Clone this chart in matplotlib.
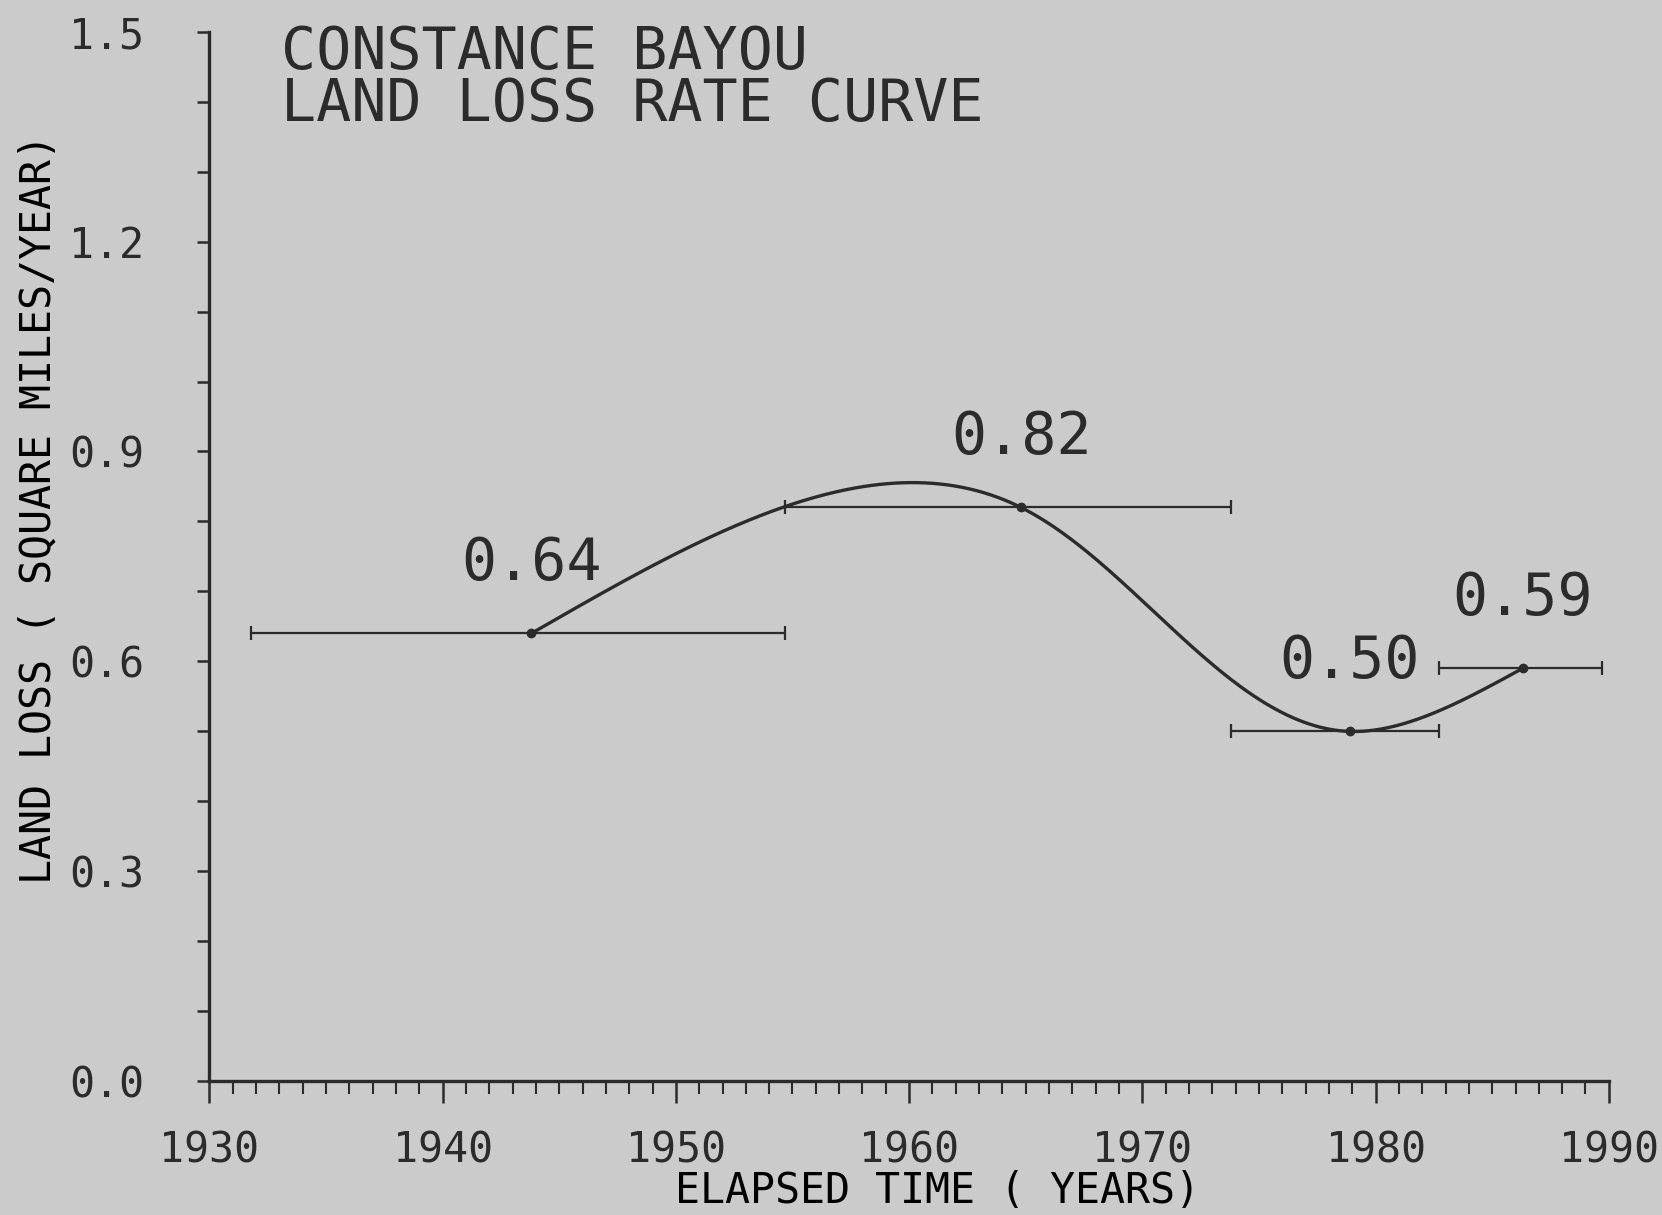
import numpy as np
import matplotlib
matplotlib.use("Agg")
from matplotlib import pyplot as plt
from matplotlib.ticker import MultipleLocator

# data
years = [1943.8, 1964.8, 1978.9, 1986.3]
rates = [0.64, 0.82, 0.50, 0.59]
period_start = [1931.8, 1954.7, 1973.8, 1982.7]
period_end = [1954.7, 1973.8, 1982.7, 1989.7]
rate_labels = ["0.64", "0.82", "0.50", "0.59"]
x_ticks = [1930, 1940, 1950, 1960, 1970, 1980, 1990]
y_ticks = [0.0, 0.3, 0.6, 0.9, 1.2, 1.5]
y_tick_labels = ["0.0", "0.3", "0.6", "0.9", "1.2", "1.5"]

paper = "#cbcbcb"
ink = "#2b2b2b"


def natural_spline(x, y, xs):
    x = np.asarray(x, float)
    y = np.asarray(y, float)
    n = len(x)
    h = np.diff(x)
    A = np.zeros((n, n))
    b = np.zeros(n)
    A[0, 0] = A[-1, -1] = 1
    for i in range(1, n - 1):
        A[i, i - 1] = h[i - 1]
        A[i, i] = 2 * (h[i - 1] + h[i])
        A[i, i + 1] = h[i]
        b[i] = 6 * ((y[i + 1] - y[i]) / h[i] - (y[i] - y[i - 1]) / h[i - 1])
    M = np.linalg.solve(A, b)
    idx = np.clip(np.searchsorted(x, xs) - 1, 0, n - 2)
    x0, x1 = x[idx], x[idx + 1]
    hh = x1 - x0
    t0 = x1 - xs
    t1 = xs - x0
    return ((M[idx] * t0 ** 3 + M[idx + 1] * t1 ** 3) / (6 * hh)
            + (y[idx] / hh - M[idx] * hh / 6) * t0
            + (y[idx + 1] / hh - M[idx + 1] * hh / 6) * t1)


def smooth_curve(ax, x, y, n=400):
    # chord-length spline through the points, built in screen space
    pts = ax.transData.transform(np.column_stack([x, y]))
    d = np.hypot(*np.diff(pts, axis=0).T)
    s = np.concatenate([[0], np.cumsum(d)])
    ss = np.linspace(0, s[-1], n)
    px = natural_spline(s, pts[:, 0], ss)
    py = natural_spline(s, pts[:, 1], ss)
    back = ax.transData.inverted().transform(np.column_stack([px, py]))
    return back[:, 0], back[:, 1]


plt.rcParams["font.family"] = ["DejaVu Sans Mono", "DejaVu Sans"]
plt.rcParams["text.color"] = ink

fig = plt.figure(figsize=(16.62, 12.15), dpi=100, facecolor=paper)
ax = fig.add_axes([0.126, 0.110, 0.842, 0.864], facecolor=paper)
ax.set_xlim(1930, 1990)
ax.set_ylim(0, 1.5)

cx, cy = smooth_curve(ax, years, rates)
ax.plot(cx, cy, color=ink, lw=2.4, clip_on=False)

xerr = [np.array(years) - np.array(period_start), np.array(period_end) - np.array(years)]
ax.errorbar(years, rates, xerr=xerr, fmt="o", ms=6, color=ink, ecolor=ink,
            elinewidth=1.6, capsize=5, capthick=1.6, clip_on=False)

for x, y, lab in zip(years, rates, rate_labels):
    ax.text(x, y + 0.10, lab, ha="center", va="center", fontsize=42)

ax.spines["top"].set_visible(False)
ax.spines["right"].set_visible(False)
for s in ("left", "bottom"):
    ax.spines[s].set_linewidth(2.4)
    ax.spines[s].set_color(ink)

ax.set_xticks(x_ticks)
ax.set_xticklabels([str(t) for t in x_ticks])
ax.xaxis.set_minor_locator(MultipleLocator(1))
ax.set_yticks(y_ticks)
ax.set_yticklabels(y_tick_labels)
ax.yaxis.set_minor_locator(MultipleLocator(0.1))

ax.tick_params(axis="x", which="major", length=16, width=1.8, color=ink,
               labelsize=30, pad=19, labelcolor=ink)
ax.tick_params(axis="x", which="minor", length=9, width=1.5, color=ink)
ax.tick_params(axis="y", which="both", length=9, width=1.8, color=ink,
               labelsize=30, pad=38, labelcolor=ink)

ax.set_xlabel("ELAPSED TIME ( YEARS)", fontsize=30, va="center")
ax.xaxis.set_label_coords(0.52, -0.104)
ax.set_ylabel("LAND LOSS ( SQUARE MILES/YEAR)", fontsize=30, va="center")
ax.yaxis.set_label_coords(-0.122, 0.545)

fig.text(0.169, 0.943, "CONSTANCE BAYOU", fontsize=42, va="baseline")
fig.text(0.169, 0.900, "LAND LOSS RATE CURVE", fontsize=42, va="baseline")

fig.savefig("out.png", dpi=100, facecolor=paper)
